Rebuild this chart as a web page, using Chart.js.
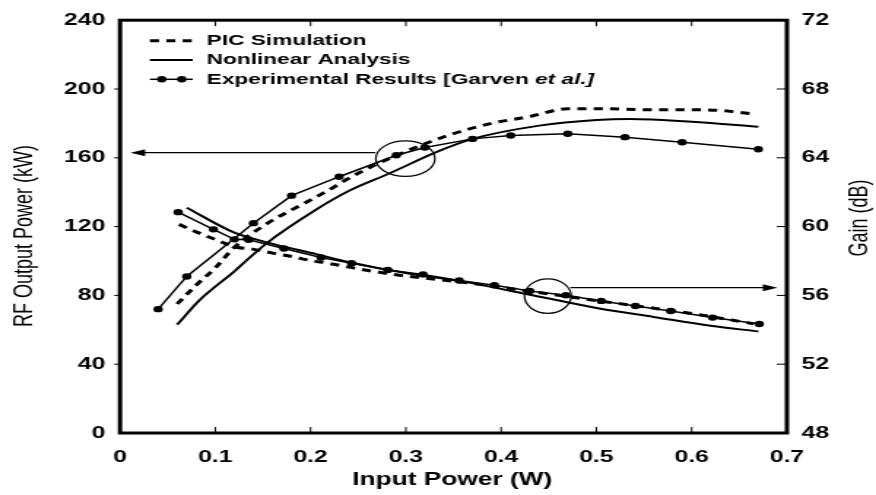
<!DOCTYPE html>
<html>
<head>
<meta charset="utf-8">
<script src="https://cdn.jsdelivr.net/npm/chart.js@4.4.1/dist/chart.umd.min.js"></script>
<style>
html, body { margin: 0; padding: 0; background: #fff; overflow: hidden; }
/* the source figure is stretched sideways, so the canvas is too */
#wrap { width: 600px; height: 495px; transform: scaleX(1.46); transform-origin: 0 0; }
</style>
</head>
<body>
<div id="wrap"><canvas id="c" width="600" height="495"></canvas></div>
<script>
// input power (W) / RF output power (kW)
const picPowerX = [0.06, 0.08, 0.1, 0.12, 0.155, 0.195, 0.215, 0.25, 0.31, 0.35, 0.39, 0.43, 0.47, 0.51, 0.55, 0.59, 0.63, 0.665];
const picPowerY = [75, 86, 96, 108, 122, 134, 140, 151, 166, 174, 180, 184, 188.5, 188.5, 188, 188, 187.5, 185.5];
const nlPowerX = [0.06, 0.083, 0.12, 0.153, 0.206, 0.241, 0.283, 0.335, 0.37, 0.44, 0.5, 0.535, 0.6, 0.67];
const nlPowerY = [63, 77, 94, 110, 130, 141, 151, 164, 171, 178.7, 182, 182.6, 181, 178];
const expPowerX = [0.04, 0.07, 0.14, 0.18, 0.23, 0.29, 0.32, 0.37, 0.41, 0.47, 0.53, 0.59, 0.67];
const expPowerY = [72, 91, 122, 138, 149, 161.5, 166, 171, 173, 174, 172, 169, 165];

// input power (W) / gain (dB)
const picGainX = [0.062, 0.082, 0.101, 0.122, 0.139, 0.16, 0.18, 0.2, 0.218, 0.237, 0.257, 0.295, 0.333, 0.372, 0.43, 0.5, 0.55, 0.6, 0.665];
const picGainY = [60.13, 59.65, 59.23, 58.8, 58.69, 58.46, 58.26, 58.03, 57.87, 57.68, 57.48, 57.16, 56.93, 56.68, 56.24, 55.7, 55.33, 54.95, 54.35];
const nlGainX = [0.07, 0.12, 0.153, 0.206, 0.241, 0.3, 0.36, 0.433, 0.503, 0.56, 0.62, 0.67];
const nlGainY = [61.1, 59.65, 59.1, 58.4, 57.93, 57.3, 56.8, 56.01, 55.24, 54.75, 54.24, 53.9];
const expGainX = [0.061, 0.098, 0.12, 0.135, 0.172, 0.211, 0.243, 0.281, 0.318, 0.356, 0.393, 0.43, 0.468, 0.505, 0.541, 0.578, 0.622, 0.671];
const expGainY = [60.84, 59.84, 59.26, 59.23, 58.73, 58.2, 57.87, 57.48, 57.22, 56.87, 56.59, 56.26, 56.01, 55.68, 55.38, 55.09, 54.71, 54.34];

const inputTicks = [0, 0.1, 0.2, 0.3, 0.4, 0.5, 0.6, 0.7];
const powerTicks = [0, 40, 80, 120, 160, 200, 240];
const gainTicks = [48, 52, 56, 60, 64, 68, 72];

// circles + arrows (data units: W, kW)
const circles = [
    { x: 0.2995, y: 159.5, rx: 0.031, ry: 10.3 },
    { x: 0.449, y: 79.6, rx: 0.0245, ry: 10 }
];
const arrows = [
    { y: 163, from: 0.268, to: 0.011 },
    { y: 84.5, from: 0.4727, to: 0.69 }
];

const FONT = "'Liberation Sans', Arial, Helvetica, sans-serif";
const pts = (xs, ys) => xs.map((v, i) => ({ x: v, y: ys[i] }));

const decor = {
    id: 'decor',
    afterDraw(chart) {
        const { ctx, chartArea: a } = chart;
        const { x, y, y1 } = chart.scales;
        ctx.save();
        ctx.strokeStyle = '#000';
        ctx.fillStyle = '#000';

        // frame
        ctx.lineWidth = 3;
        ctx.strokeRect(a.left, a.top, a.right - a.left, a.bottom - a.top);

        // tick marks
        ctx.lineWidth = 1;
        ctx.beginPath();
        inputTicks.slice(1, -1).forEach(v => {
            const px = x.getPixelForValue(v);
            ctx.moveTo(px, a.bottom); ctx.lineTo(px, a.bottom - 6);
            ctx.moveTo(px, a.top); ctx.lineTo(px, a.top + 6);
        });
        powerTicks.slice(1, -1).forEach(v => {
            const py = y.getPixelForValue(v);
            ctx.moveTo(a.left - 4, py); ctx.lineTo(a.left, py);
        });
        gainTicks.slice(1, -1).forEach(v => {
            const py = y1.getPixelForValue(v);
            ctx.moveTo(a.right - 7, py); ctx.lineTo(a.right, py);
        });
        ctx.stroke();

        // circles and arrows
        ctx.lineWidth = 1.2;
        circles.forEach(c => {
            const cx = x.getPixelForValue(c.x), cy = y.getPixelForValue(c.y);
            const rx = x.getPixelForValue(c.x + c.rx) - cx;
            const ry = cy - y.getPixelForValue(c.y + c.ry);
            ctx.beginPath();
            ctx.ellipse(cx, cy, rx, ry, 0, 0, Math.PI * 2);
            ctx.stroke();
        });
        arrows.forEach(ar => {
            const py = y.getPixelForValue(ar.y);
            const x0 = x.getPixelForValue(ar.from), x1 = x.getPixelForValue(ar.to);
            const dir = x1 > x0 ? 1 : -1;
            ctx.beginPath();
            ctx.moveTo(x0, py); ctx.lineTo(x1 - dir * 8, py);
            ctx.stroke();
            ctx.beginPath();
            ctx.moveTo(x1, py);
            ctx.lineTo(x1 - dir * 10, py - 3.5);
            ctx.lineTo(x1 - dir * 10, py + 3.5);
            ctx.closePath();
            ctx.fill();
        });

        // legend
        ctx.lineWidth = 3;
        ctx.setLineDash([6.2, 5]);
        ctx.beginPath(); ctx.moveTo(102.7, 40.7); ctx.lineTo(131.3, 40.7); ctx.stroke();
        ctx.setLineDash([]);
        ctx.lineWidth = 2;
        ctx.beginPath(); ctx.moveTo(102.7, 60); ctx.lineTo(132, 60); ctx.stroke();
        ctx.lineWidth = 1.5;
        ctx.beginPath(); ctx.moveTo(102.7, 79.3); ctx.lineTo(132, 79.3); ctx.stroke();
        [110.8, 124.5].forEach(mx => {
            ctx.beginPath(); ctx.arc(mx, 79.3, 3.2, 0, Math.PI * 2); ctx.fill();
        });

        ctx.textBaseline = 'middle';
        ctx.textAlign = 'left';
        ctx.font = `bold 15.5px ${FONT}`;
        ctx.fillText('PIC Simulation', 141.6, 40.7);
        ctx.fillText('Nonlinear Analysis', 141.6, 60);
        const head = 'Experimental Results [Garven ';
        ctx.fillText(head, 141.6, 79.3);
        const w = ctx.measureText(head).width;
        ctx.font = `italic bold 15.5px ${FONT}`;
        ctx.fillText('et al.]', 141.6 + w, 79.3);

        // axis titles
        ctx.textAlign = 'center';
        ctx.font = `bold 18px ${FONT}`;
        ctx.fillText('Input Power (W)', 309.8, 480);

        ctx.font = `18px ${FONT}`;
        ctx.save();
        ctx.translate(17.1, 236);
        ctx.rotate(-Math.PI / 2);
        ctx.fillText('RF Output Power (kW)', 0, 0);
        ctx.restore();

        ctx.save();
        ctx.translate(588.7, 218);
        ctx.rotate(-Math.PI / 2);
        ctx.fillText('Gain (dB)', 0, 0);
        ctx.restore();

        ctx.restore();
    }
};

const tickFont = { family: FONT, size: 17, weight: 'bold' };

new Chart(document.getElementById('c'), {
    type: 'line',
    data: {
        datasets: [
            { data: pts(picPowerX, picPowerY), yAxisID: 'y', borderColor: '#000', borderWidth: 3, borderDash: [6.2, 5], pointRadius: 0, cubicInterpolationMode: 'monotone' },
            { data: pts(nlPowerX, nlPowerY), yAxisID: 'y', borderColor: '#000', borderWidth: 2, pointRadius: 0, cubicInterpolationMode: 'monotone' },
            { data: pts(expPowerX, expPowerY), yAxisID: 'y', borderColor: '#000', borderWidth: 1.5, pointRadius: 3.2, pointBackgroundColor: '#000', pointBorderWidth: 0, tension: 0 },
            { data: pts(picGainX, picGainY), yAxisID: 'y1', borderColor: '#000', borderWidth: 3, borderDash: [6.2, 5], pointRadius: 0, cubicInterpolationMode: 'monotone' },
            { data: pts(nlGainX, nlGainY), yAxisID: 'y1', borderColor: '#000', borderWidth: 2, pointRadius: 0, cubicInterpolationMode: 'monotone' },
            { data: pts(expGainX, expGainY), yAxisID: 'y1', borderColor: '#000', borderWidth: 1.5, pointRadius: 3.2, pointBackgroundColor: '#000', pointBorderWidth: 0, tension: 0 }
        ]
    },
    options: {
        responsive: false,
        animation: false,
        layout: { padding: { top: 15, left: 0, right: 0, bottom: 0 } },
        plugins: { legend: { display: false }, tooltip: { enabled: false } },
        scales: {
            x: {
                type: 'linear',
                min: 0, max: 0.7,
                grid: { display: false, drawTicks: false },
                border: { display: false },
                afterFit: s => { s.height = 62; },
                ticks: {
                    stepSize: 0.1, padding: 14, color: '#000', font: tickFont,
                    maxRotation: 0,
                    callback: v => {
                        const i = inputTicks.findIndex(t => Math.abs(t - v) < 1e-6);
                        return i < 0 ? '' : (inputTicks[i] === 0 ? '0' : inputTicks[i].toFixed(1));
                    }
                }
            },
            y: {
                position: 'left',
                min: 0, max: 240,
                grid: { display: false, drawTicks: false },
                border: { display: false },
                afterFit: s => { s.width = 82.2; },
                ticks: { stepSize: 40, padding: 10, color: '#000', font: tickFont }
            },
            y1: {
                position: 'right',
                min: 48, max: 72,
                grid: { display: false, drawTicks: false },
                border: { display: false },
                afterFit: s => { s.width = 61; },
                ticks: { stepSize: 4, padding: 10, color: '#000', font: tickFont }
            }
        }
    },
    plugins: [decor]
});
</script>
</body>
</html>
